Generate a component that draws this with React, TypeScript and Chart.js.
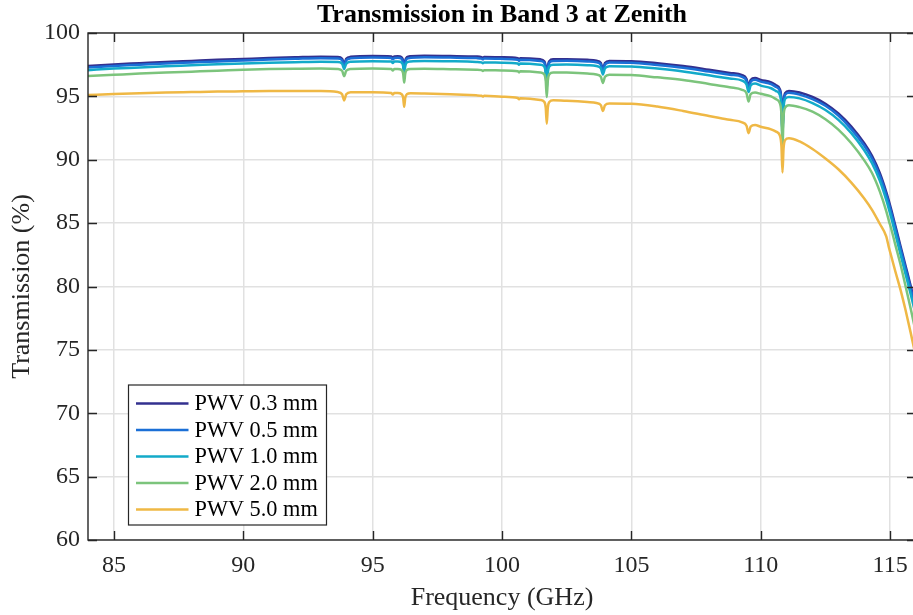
import React, { useEffect, useRef } from "react";
import { Chart, registerables } from "chart.js";

Chart.register(...registerables);

// ---------------- data ----------------
const freqGHz = [
  84, 85, 86, 87, 88, 89, 90, 91, 92, 93,
  93.65, 93.82, 93.9, 93.98, 94.15,
  95, 95.72, 95.78, 95.84,
  95.97, 96.12, 96.18, 96.22, 96.26, 96.32, 96.47,
  97, 98, 99, 99.21, 99.26, 99.31,
  100, 100.61, 100.66, 100.71,
  101.48, 101.63, 101.69, 101.73, 101.77, 101.83, 101.98,
  102.5, 103.3,
  103.65, 103.82, 103.9, 103.98, 104.15,
  105, 106, 107, 108, 108.8,
  109.28, 109.45, 109.53, 109.61, 109.78,
  110, 110.4,
  110.59, 110.74, 110.8, 110.84, 110.88, 110.94, 111.09,
  111.5, 112, 112.5, 113, 113.5, 114, 114.3, 114.6, 114.85, 114.95, 115.05, 115.2, 115.4, 115.6, 115.8, 116,
];

const pwv03 = [
  97.40, 97.52, 97.62, 97.72, 97.80, 97.88, 97.95, 98.02, 98.08, 98.13,
  98.11, 97.97, 97.55, 97.97, 98.12,
  98.18, 98.15, 98.04, 98.15,
  98.16, 98.08, 97.80, 97.09, 97.80, 98.08, 98.16,
  98.20, 98.18, 98.14, 98.10, 98.04, 98.10,
  98.08, 98.01, 97.92, 98.01,
  97.92, 97.78, 97.28, 95.98, 97.28, 97.78, 97.92,
  97.93, 97.88,
  97.81, 97.64, 97.15, 97.64, 97.80,
  97.78, 97.62, 97.40, 97.10, 96.85,
  96.68, 96.38, 95.78, 96.30, 96.45,
  96.30, 96.10,
  95.88, 95.56, 94.66, 92.35, 94.46, 95.26, 95.42,
  95.30, 94.95, 94.42, 93.65, 92.62, 91.30, 90.30, 88.95, 87.45, 86.75, 86.00, 84.80, 83.20, 81.60, 80.00, 78.30,
];

const pwv05 = [
  97.28, 97.40, 97.50, 97.60, 97.68, 97.76, 97.83, 97.90, 97.96, 98.01,
  97.99, 97.85, 97.43, 97.85, 98.00,
  98.06, 98.03, 97.92, 98.03,
  98.04, 97.96, 97.68, 96.97, 97.68, 97.96, 98.04,
  98.08, 98.06, 98.02, 97.98, 97.92, 97.98,
  97.96, 97.89, 97.80, 97.89,
  97.80, 97.66, 97.16, 95.86, 97.16, 97.66, 97.80,
  97.81, 97.76,
  97.69, 97.52, 97.03, 97.52, 97.68,
  97.66, 97.48, 97.26, 96.96, 96.71,
  96.54, 96.24, 95.64, 96.16, 96.31,
  96.16, 95.96,
  95.74, 95.42, 94.52, 92.21, 94.32, 95.12, 95.28,
  95.14, 94.79, 94.26, 93.49, 92.42, 91.10, 90.10, 88.75, 87.25, 86.55, 85.80, 84.60, 83.00, 81.40, 79.80, 78.10,
];

const pwv10 = [
  97.07, 97.19, 97.28, 97.38, 97.45, 97.53, 97.59, 97.65, 97.70, 97.74,
  97.72, 97.58, 97.16, 97.58, 97.73,
  97.78, 97.75, 97.64, 97.75,
  97.76, 97.68, 97.40, 96.69, 97.40, 97.68, 97.76,
  97.79, 97.77, 97.72, 97.68, 97.62, 97.68,
  97.66, 97.59, 97.50, 97.59,
  97.50, 97.36, 96.86, 95.56, 96.86, 97.36, 97.50,
  97.51, 97.46,
  97.39, 97.22, 96.73, 97.22, 97.38,
  97.36, 97.19, 96.97, 96.66, 96.41,
  96.24, 95.94, 95.34, 95.86, 96.01,
  95.85, 95.64,
  95.42, 95.10, 94.20, 91.89, 94.00, 94.80, 94.96,
  94.84, 94.47, 93.92, 93.15, 92.10, 90.75, 89.72, 88.35, 86.83, 86.13, 85.38, 84.16, 82.55, 80.95, 79.35, 77.65,
];

const pwv20 = [
  96.60, 96.70, 96.80, 96.88, 96.95, 97.02, 97.10, 97.15, 97.18, 97.20,
  97.16, 97.02, 96.60, 97.02, 97.16,
  97.20, 97.16, 97.05, 97.16,
  97.16, 97.08, 96.80, 96.09, 96.80, 97.08, 97.16,
  97.17, 97.14, 97.10, 97.07, 97.01, 97.07,
  97.05, 96.98, 96.89, 96.98,
  96.89, 96.75, 96.25, 94.95, 96.25, 96.75, 96.89,
  96.88, 96.80,
  96.72, 96.55, 96.06, 96.55, 96.71,
  96.68, 96.50, 96.30, 95.98, 95.72,
  95.52, 95.25, 94.60, 95.18, 95.30,
  95.20, 95.00,
  94.78, 94.45, 93.55, 91.05, 93.35, 94.10, 94.30,
  94.15, 93.80, 93.20, 92.38, 91.30, 89.95, 88.95, 87.50, 85.95, 85.20, 84.50, 83.30, 81.75, 80.00, 78.20, 76.30,
];

const pwv50 = [
  95.10, 95.18, 95.24, 95.30, 95.34, 95.38, 95.40, 95.42, 95.42, 95.42,
  95.34, 95.17, 94.68, 95.16, 95.32,
  95.32, 95.27, 95.15, 95.26,
  95.26, 95.17, 94.89, 94.18, 94.88, 95.16, 95.24,
  95.22, 95.16, 95.08, 95.05, 94.99, 95.04,
  94.97, 94.87, 94.77, 94.86,
  94.72, 94.58, 94.11, 92.85, 94.09, 94.56, 94.69,
  94.65, 94.55,
  94.48, 94.31, 93.85, 94.30, 94.44,
  94.42, 94.20, 93.85, 93.45, 93.15,
  92.95, 92.68, 92.10, 92.62, 92.74,
  92.60, 92.40,
  92.22, 91.90, 91.05, 89.00, 90.85, 91.55, 91.70,
  91.45, 90.85, 90.10, 89.25, 88.20, 86.95, 86.05, 84.95, 83.95, 83.10, 82.35, 81.20, 79.75, 78.10, 76.30, 74.40,
];

const seriesLabels = ["PWV 0.3 mm", "PWV 0.5 mm", "PWV 1.0 mm", "PWV 2.0 mm", "PWV 5.0 mm"];
const seriesValues = [pwv03, pwv05, pwv10, pwv20, pwv50];
const seriesColors = ["#33308f", "#1b6fd6", "#13aac9", "#7cc47c", "#efb845"];

const xTicks = [85, 90, 95, 100, 105, 110, 115];
const yTicks = [60, 65, 70, 75, 80, 85, 90, 95, 100];
const xRange = [84, 116];
const yRange = [60, 100];

const titleText = "Transmission in Band 3 at Zenith";
const xTitle = "Frequency (GHz)";
const yTitle = "Transmission (%)";

// ---------------- layout constants ----------------
const CANVAS_W = 920;
const CANVAS_H = 615;
const PLOT_RIGHT = 916;
const SERIF = '"Liberation Serif", "Times New Roman", Times, serif';
const AXIS_COLOR = "#262626";

const framePlugin = {
  id: "matlabFrame",
  afterDatasetsDraw(chart: any) {
    const { ctx, chartArea, scales } = chart;
    const { left, right, top, bottom } = chartArea;
    const xs = scales.x;
    const ys = scales.y;
    ctx.save();
    // box
    ctx.strokeStyle = AXIS_COLOR;
    ctx.lineWidth = 1.4;
    ctx.strokeRect(left, top, right - left, bottom - top);
    // inward ticks on all four sides
    const L = 9;
    ctx.beginPath();
    for (const v of xTicks) {
      const px = Math.round(xs.getPixelForValue(v)) + 0.5;
      ctx.moveTo(px, bottom);
      ctx.lineTo(px, bottom - L);
      ctx.moveTo(px, top);
      ctx.lineTo(px, top + L);
    }
    for (const v of yTicks) {
      const py = Math.round(ys.getPixelForValue(v)) + 0.5;
      ctx.moveTo(left, py);
      ctx.lineTo(left + L, py);
      ctx.moveTo(right, py);
      ctx.lineTo(right - L, py);
    }
    ctx.stroke();

    // legend (MATLAB style, inside the axes, south-west)
    const boxL = left + 40.5;
    const boxW = 198;
    const boxH = 140;
    const boxT = bottom - 15 - boxH;
    ctx.fillStyle = "#ffffff";
    ctx.fillRect(boxL, boxT, boxW, boxH);
    ctx.strokeStyle = AXIS_COLOR;
    ctx.lineWidth = 1.2;
    ctx.strokeRect(boxL, boxT, boxW, boxH);
    ctx.font = `22.3px ${SERIF}`;
    ctx.textBaseline = "middle";
    ctx.textAlign = "left";
    for (let i = 0; i < seriesLabels.length; i++) {
      const yRow = boxT + 18.5 + i * 26.5;
      ctx.strokeStyle = seriesColors[i];
      ctx.lineWidth = 2.5;
      ctx.beginPath();
      ctx.moveTo(boxL + 7.5, yRow);
      ctx.lineTo(boxL + 60, yRow);
      ctx.stroke();
      ctx.fillStyle = "#000000";
      ctx.fillText(seriesLabels[i], boxL + 66, yRow + 1);
    }
    ctx.restore();
  },
};

export default function App() {
  const canvasRef = useRef<HTMLCanvasElement | null>(null);

  useEffect(() => {
    const canvas = canvasRef.current;
    if (!canvas) return;

    const datasets = seriesLabels.map((label, i) => ({
      label,
      data: freqGHz.map((f, k) => ({ x: f, y: seriesValues[i][k] })),
      borderColor: seriesColors[i],
      backgroundColor: seriesColors[i],
      borderWidth: 2.5,
      pointRadius: 0,
      pointHoverRadius: 0,
      fill: false,
      cubicInterpolationMode: "monotone" as const,
      order: seriesLabels.length - 1 - i,
    }));

    const chart = new Chart(canvas, {
      type: "line",
      data: { datasets },
      plugins: [framePlugin],
      options: {
        animation: false,
        responsive: false,
        devicePixelRatio: 1,
        layout: { padding: { left: 0, top: 0, bottom: 0, right: CANVAS_W - PLOT_RIGHT } },
        plugins: {
          legend: { display: false },
          tooltip: { enabled: false },
          title: {
            display: true,
            text: titleText,
            fullSize: false,
            color: "#000000",
            font: { family: SERIF, size: 26, weight: "bold", lineHeight: 1 },
            padding: { top: 2, bottom: 5 },
          },
        },
        scales: {
          x: {
            type: "linear",
            min: xRange[0],
            max: xRange[1],
            afterBuildTicks: (scale: any) => {
              scale.ticks = xTicks.map((v) => ({ value: v }));
            },
            afterFit: (scale: any) => {
              scale.height = 75;
            },
            ticks: {
              autoSkip: false,
              maxRotation: 0,
              minRotation: 0,
              padding: 11,
              color: AXIS_COLOR,
              font: { family: SERIF, size: 24 },
            },
            grid: { color: "#e1e1e1", lineWidth: 1.5, drawTicks: false },
            border: { display: false },
            title: {
              display: true,
              text: xTitle,
              color: AXIS_COLOR,
              font: { family: SERIF, size: 26 },
              padding: { top: 0, bottom: 1 },
            },
          },
          y: {
            type: "linear",
            min: yRange[0],
            max: yRange[1],
            afterBuildTicks: (scale: any) => {
              scale.ticks = yTicks.map((v) => ({ value: v }));
            },
            afterFit: (scale: any) => {
              scale.width = 88;
            },
            ticks: {
              autoSkip: false,
              padding: 8,
              color: AXIS_COLOR,
              font: { family: SERIF, size: 24 },
            },
            grid: { color: "#e1e1e1", lineWidth: 1.5, drawTicks: false },
            border: { display: false },
            title: {
              display: true,
              text: yTitle,
              color: AXIS_COLOR,
              font: { family: SERIF, size: 26 },
              padding: { top: 7, bottom: 0 },
            },
          },
        },
      },
    } as any);

    return () => {
      chart.destroy();
    };
  }, []);

  return (
    <div
      style={{
        position: "fixed",
        left: 0,
        top: 0,
        width: 913,
        height: 615,
        overflow: "hidden",
        background: "#ffffff",
      }}
    >
      <canvas
        ref={canvasRef}
        width={CANVAS_W}
        height={CANVAS_H}
        style={{ display: "block", width: CANVAS_W, height: CANVAS_H }}
      />
    </div>
  );
}
